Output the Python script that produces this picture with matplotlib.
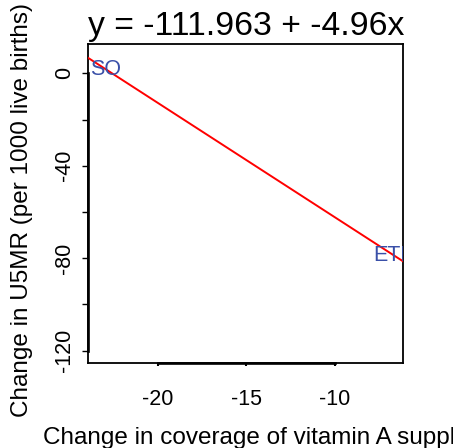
import matplotlib
matplotlib.use("Agg")
import matplotlib.pyplot as plt
import numpy as np

plt.rcParams['font.family'] = ['Liberation Sans', 'DejaVu Sans']

# Data
countries = ["SO", "ETH"]
coverage_change = [-22.95, -6.65]
u5mr_change = [1.87, -78.98]
intercept = -111.963
slope = -4.96
title_text = "y = -111.963 + -4.96x"
xlabel = "Change in coverage of vitamin A supplementation"
ylabel = "Change in U5MR (per 1000 live births)"
xticks = [-20, -15, -10]
yticks = [0, -20, -40, -60, -80, -100, -120]
ytick_labels = ["0", "", "-40", "", "-80", "", "-120"]
xlim = (-23.93, -6.17)
ylim = (-125.4, 12.7)

W, H = 453, 448
fig = plt.figure(figsize=(W / 100, H / 100), dpi=100)
L, R, T, B = 88, 403, 44, 363
ax = fig.add_axes([L / W, 1 - B / H, (R - L) / W, (B - T) / H])
ax.set_xlim(*xlim)
ax.set_ylim(*ylim)

fs = 15.5
lfs = 17.45
# regression line across full x range
xs = np.array(xlim)
ax.plot(xs, intercept + slope * xs, color='#FF0000', lw=1.4, zorder=3)
for c, x, y in zip(countries, coverage_change, u5mr_change):
    ax.text(x, y, c, color='#3A50A8', fontsize=fs, ha='center', va='center',
            clip_on=True, zorder=4)

for s in ax.spines.values():
    s.set_linewidth(1.3)
    s.set_color('black')

ax.set_xticks(xticks)
ax.set_xticklabels([str(t) for t in xticks], fontsize=fs)
ax.set_yticks(yticks)
ax.set_yticklabels(ytick_labels, fontsize=fs, rotation=90, va='center')
ax.tick_params(axis='x', length=2, width=1.5, pad=17)
ax.tick_params(axis='y', length=4, width=1.0, pad=5.5)

# thicker axis lines between first/last ticks (R style)
ax.plot([xticks[0], xticks[-1]], [ylim[0], ylim[0]], color='black', lw=1.9,
        clip_on=False, zorder=5)
ax.plot([xlim[0], xlim[0]], [yticks[0], yticks[-1]], color='black', lw=1.9,
        clip_on=False, zorder=5)

fig.text(88 / W, 1 - 35.5 / H, title_text, fontsize=24.3, ha='left', va='baseline')
fig.text(43 / W, 1 - 443.5 / H, xlabel, fontsize=lfs, ha='left', va='baseline')
fig.text(22 / W, 1 - 210 / H, ylabel, fontsize=lfs, rotation=90,
         ha='center', va='center')

fig.savefig("out.png", dpi=100)
